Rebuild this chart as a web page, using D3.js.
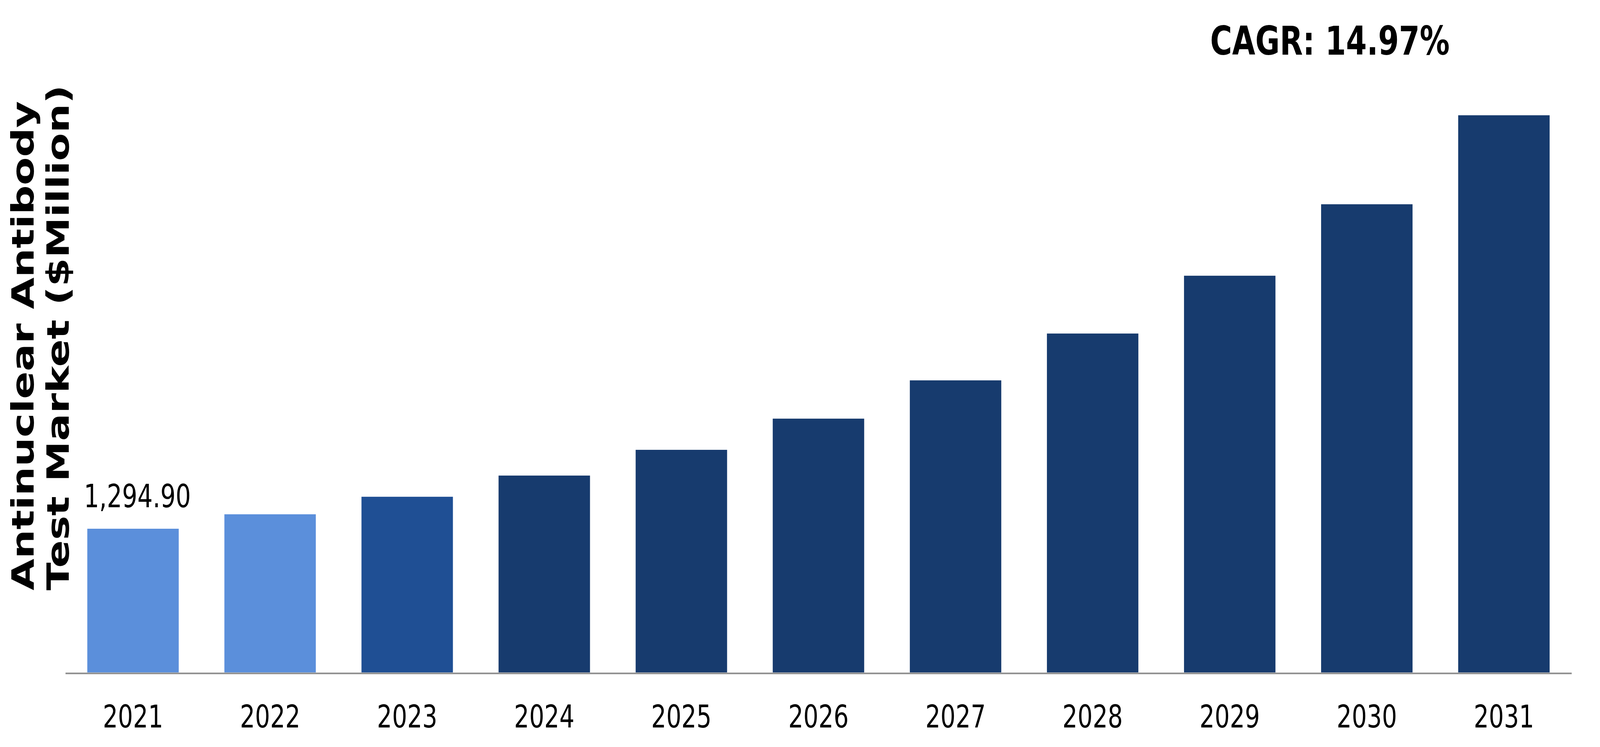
<!DOCTYPE html>
<html>
<head>
<meta charset="utf-8">
<script src="https://cdn.jsdelivr.net/npm/d3@7"></script>
<style>
	html, body { margin: 0; padding: 0; background: #fff; width: 100%; height: 100%; overflow: hidden; }
	svg { display: block; width: 100vw; height: 100vh; }
</style>
</head>
<body>
<svg id="chart" viewBox="0 0 5459 1913" preserveAspectRatio="none"></svg>
<script>
// chart values
var years = ["2021", "2022", "2023", "2024", "2025", "2026", "2027", "2028", "2029", "2030", "2031"];
var marketValues = [1294.9, 1425, 1583, 1774, 2006, 2287, 2632, 3054, 3575, 4219, 5021];
var barColors = ["#5b8fdb", "#5b8fdb", "#1f4f94", "#173b6e", "#173b6e", "#173b6e", "#173b6e", "#173b6e", "#173b6e", "#173b6e", "#173b6e"];
var yTitleLines = ["Antinuclear Antibody", "Test Market ($Million)"];
var cagrText = "CAGR: 14.97%";
var firstLabel = "1,294.90";

var FONT = "'DejaVu Sans', Verdana, sans-serif";
var baseY = 1722;

var svg = d3.select("#chart");

var x = d3.scaleBand()
	.domain(years)
	.range([223, 5362])
	.paddingInner(0.333)
	.paddingOuter(0.16);

var y = d3.scaleLinear()
	.domain([0, 6000])
	.range([baseY, 17]);

var data = years.map(function(yr, i) {
	return { year: yr, value: marketValues[i], color: barColors[i] };
});

// bars
svg.append("g").selectAll("rect")
	.data(data)
	.enter().append("rect")
	.attr("x", function(d) { return x(d.year); })
	.attr("y", function(d) { return y(d.value); })
	.attr("width", x.bandwidth())
	.attr("height", function(d) { return baseY - y(d.value); })
	.attr("fill", function(d) { return d.color; });

// x axis: grey base line plus year labels
var xAxis = svg.append("g")
	.attr("transform", "translate(0," + (baseY + 2) + ")")
	.call(d3.axisBottom(x).tickSize(0).tickSizeOuter(0));

xAxis.select(".domain")
	.attr("stroke", "#8c8c8c")
	.attr("stroke-width", 4);

xAxis.selectAll(".tick text")
	.attr("y", 139)
	.attr("dy", 0)
	.attr("fill", "#000")
	.style("font-family", FONT)
	.style("font-size", "81px");

// value label over the first bar
svg.append("text")
	.attr("x", x(years[0]) + x.bandwidth() / 2 + 15)
	.attr("y", y(marketValues[0]) - 55)
	.attr("text-anchor", "middle")
	.style("font-family", FONT)
	.style("font-size", "82px")
	.attr("fill", "#000")
	.text(firstLabel);

// y axis title, two rotated lines
var yTitle = svg.append("text")
	.attr("transform", "translate(115,1512) rotate(-90)")
	.style("font-family", FONT)
	.style("font-size", "105px")
	.style("font-weight", "bold")
	.attr("fill", "#000");

yTitle.selectAll("tspan")
	.data(yTitleLines)
	.enter().append("tspan")
	.attr("x", 0)
	.attr("y", function(d, i) { return i * 120; })
	.text(function(d) { return d; });

// CAGR note
svg.append("text")
	.attr("x", 4129)
	.attr("y", 140)
	.style("font-family", FONT)
	.style("font-size", "102px")
	.style("font-weight", "bold")
	.attr("fill", "#000")
	.text(cagrText);
</script>
</body>
</html>
